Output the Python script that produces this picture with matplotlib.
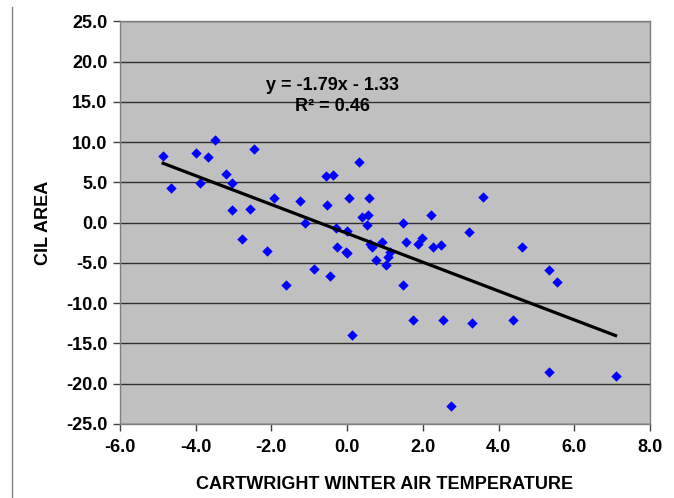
import matplotlib.pyplot as plt
from matplotlib.lines import Line2D
from matplotlib.ticker import FormatStrFormatter

# Winter air temperature at Cartwright vs CIL area
temperature = [-4.86, -4.66, -3.99, -3.90, -3.68, -3.49, -3.19, -3.05, -3.05, -2.45,
               -2.56, -2.79, -2.13, -1.92, -1.62, -1.25, -1.11, -0.88, -0.55, -0.38,
               -0.53, -0.45, -0.30, -0.01, -0.28, -0.02, 0.00, 0.31, 0.04, 0.58,
               0.40, 0.55, 0.52, 0.61, 0.65, 0.76, 0.93, 1.02, 1.08, 1.13,
               0.12, 1.47, 1.47, 1.55, 1.75, 1.87, 1.98, 2.21, 2.27, 2.49,
               2.52, 2.75, 3.23, 3.29, 3.58, 4.39, 4.62, 5.32, 5.32, 5.55,
               7.09]
cil_area = [8.3, 4.3, 8.7, 4.9, 8.2, 10.2, 6.0, 4.9, 1.6, 9.1,
            1.7, -2.0, -3.5, 3.1, -7.7, 2.7, -0.1, -5.8, 5.8, 5.9,
            2.2, -6.6, -0.7, -1.0, -3.0, -3.6, -3.8, 7.5, 3.1, 3.1,
            0.7, 1.0, -0.3, -2.7, -3.0, -4.6, -2.4, -5.3, -4.3, -3.6,
            -13.9, 0.0, -7.7, -2.4, -12.1, -2.7, -1.9, 0.9, -3.0, -2.8,
            -12.1, -22.8, -1.2, -12.5, 3.2, -12.1, -3.0, -5.9, -18.5, -7.4,
            -19.0]

# linear trend given on the chart
slope = -1.79
intercept = -1.33
r_squared = 0.46

plt.rcParams['font.family'] = ['Liberation Sans', 'DejaVu Sans']
plt.rcParams['font.weight'] = 'bold'
fs = 13

fig = plt.figure(figsize=(6.74, 4.98), dpi=100)
ax = fig.add_axes([120 / 674, 1 - 424 / 498, 530 / 674, 402.7 / 498])
ax.set_facecolor('#c0c0c0')

ax.set_xlim(-6, 8)
ax.set_ylim(-25, 25)
ax.set_xticks(range(-6, 9, 2))
ax.set_yticks(range(-25, 26, 5))
ax.xaxis.set_major_formatter(FormatStrFormatter('%.1f'))
ax.yaxis.set_major_formatter(FormatStrFormatter('%.1f'))
ax.tick_params(direction='out', length=5, width=1, color='#404040',
               labelsize=fs, pad=4)
ax.tick_params(axis='x', pad=6)
ax.grid(axis='y', color='#303030', linewidth=1)
ax.set_axisbelow(True)
for s in ax.spines.values():
    s.set_color('#808080')
    s.set_linewidth(1)

ax.scatter(temperature, cil_area, marker='D', s=28, color='#0000ff',
           linewidths=0, zorder=3)

x0, x1 = min(temperature), max(temperature)
ax.plot([x0, x1], [slope * x0 + intercept, slope * x1 + intercept],
        color='black', linewidth=2.3, zorder=4)

ax.text(-0.4, 17.0, f'y = {slope:.2f}x - {abs(intercept):.2f}',
        ha='center', va='center', fontsize=fs, fontweight='bold')
ax.text(-0.4, 14.4, f'R² = {r_squared:.2f}',
        ha='center', va='center', fontsize=fs, fontweight='bold')

ax.set_xlabel('CARTWRIGHT WINTER AIR TEMPERATURE', fontsize=fs,
              fontweight='bold', labelpad=14)
ax.set_ylabel('CIL AREA', fontsize=fs, fontweight='bold', labelpad=10)

fig.add_artist(Line2D([12 / 674, 12 / 674], [0, 1 - 7 / 498],
                      transform=fig.transFigure, color='#808080', linewidth=1))

fig.savefig('out.png', dpi=100)
